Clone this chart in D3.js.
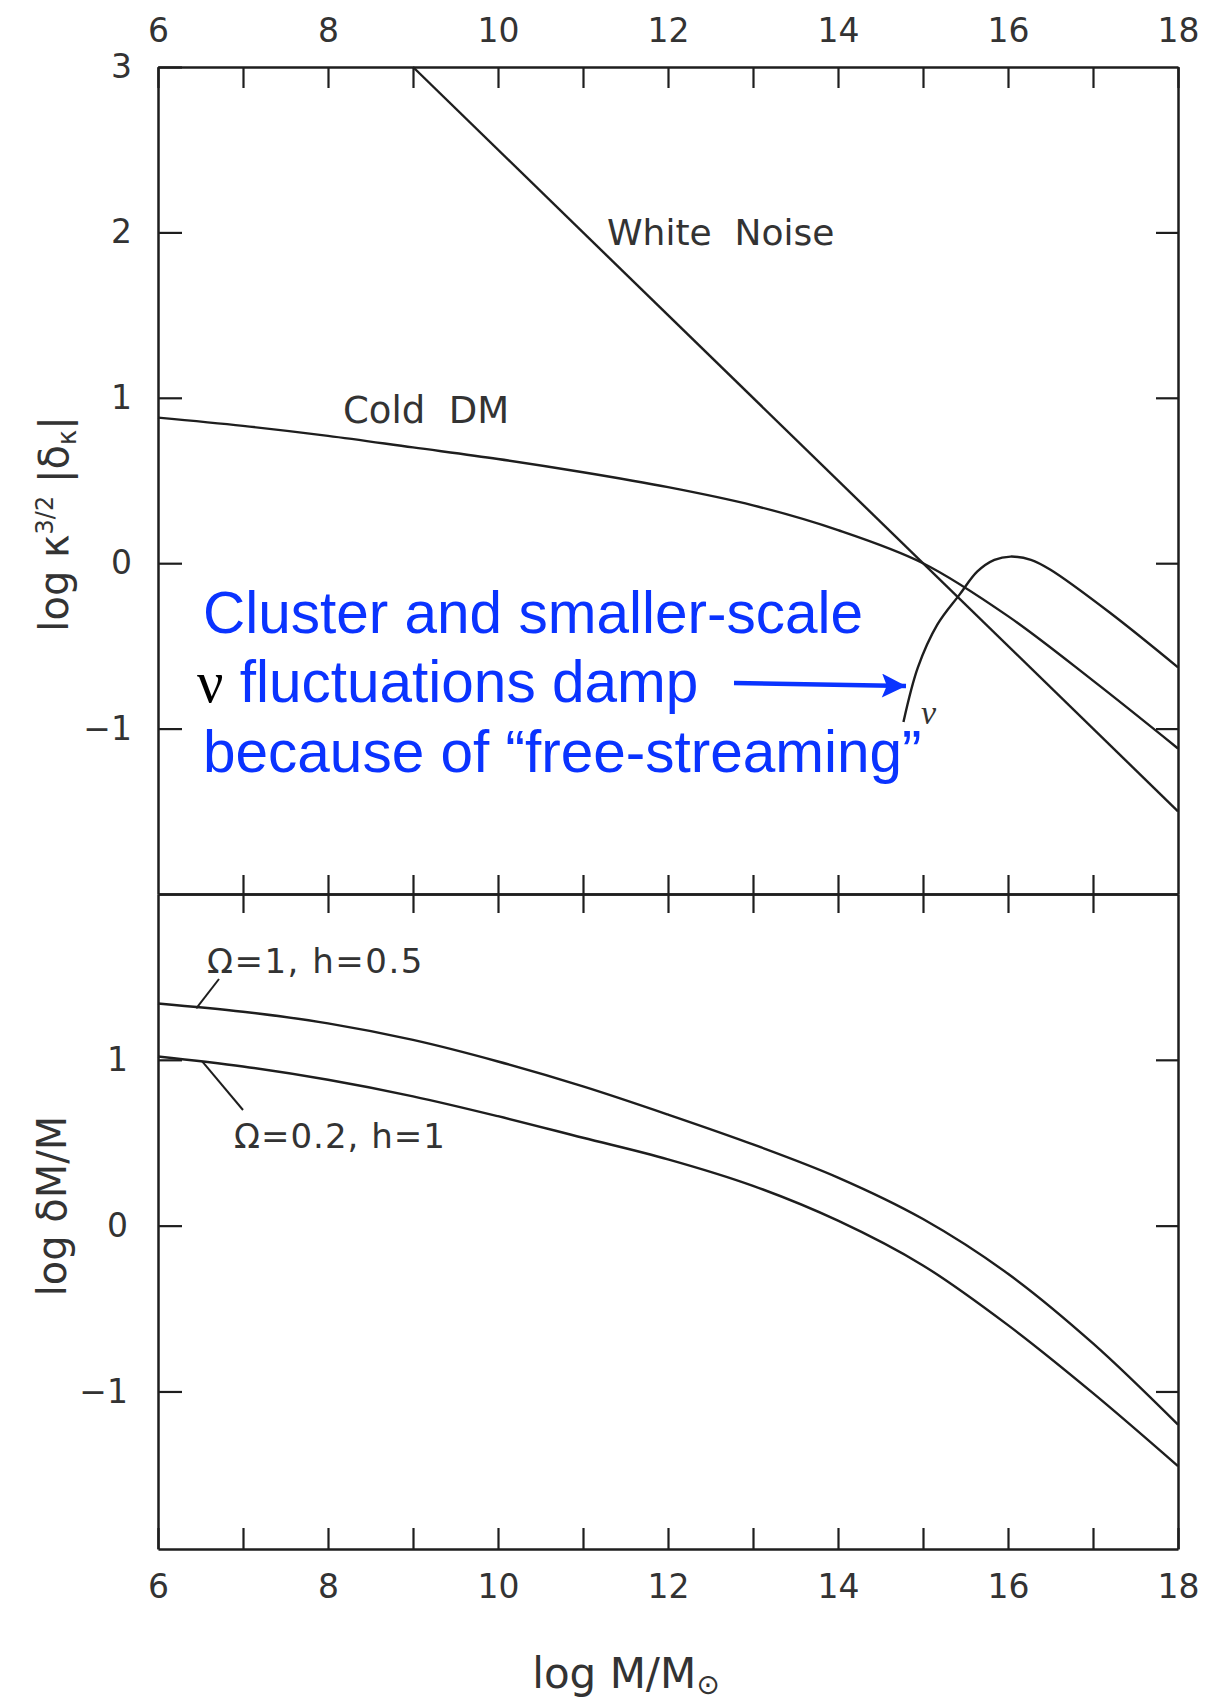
<!DOCTYPE html>
<html>
<head>
<meta charset="utf-8">
<script src="https://cdn.jsdelivr.net/npm/d3@7"></script>
<style>
  body { margin: 0; background: #fff; }
  .tick text { font-family: 'DejaVu Sans', sans-serif; fill: #333; }
</style>
</head>
<body>
<script>
// values (log M/Msun on x)
var logMass = [6, 7, 8, 9, 10, 11, 12, 13, 14, 15, 16, 17, 18];
var coldDM = [0.88, 0.83, 0.77, 0.70, 0.63, 0.55, 0.46, 0.35, 0.20, 0.0, -0.32, -0.71, -1.12];
var whiteNoiseMass = [9, 18];
var whiteNoise = [3, -1.5];
var nuMass = [14.77, 14.94, 15.17, 15.43, 15.64, 15.84, 16.03, 16.27, 16.5, 17.2, 18];
var neutrino = [-0.96, -0.63, -0.37, -0.19, -0.05, 0.02, 0.04, 0.02, -0.04, -0.30, -0.63];
var omega1h05 = [1.34, 1.29, 1.22, 1.12, 0.99, 0.84, 0.67, 0.49, 0.29, 0.04, -0.29, -0.71, -1.20];
var omega02h1 = [1.02, 0.96, 0.88, 0.78, 0.66, 0.53, 0.40, 0.24, 0.03, -0.24, -0.60, -1.01, -1.45];

var xLabels = [6, 8, 10, 12, 14, 16, 18];
var topYTicks = [-1, 0, 1, 2, 3];
var botYTicks = [-1, 0, 1];

var FONT = "'DejaVu Sans', sans-serif";
var INK = '#1e1e1e';
var BLUE = '#0a33ff';

var svg = d3.select('body').append('svg')
  .attr('width', 1230)
  .attr('height', 1701);

var x = d3.scaleLinear().domain([6, 18]).range([158, 1178]);
var yTop = d3.scaleLinear().domain([-2, 3]).range([894, 67]);
var yBot = d3.scaleLinear().domain([-1.95, 2]).range([1549, 894]);

var intFmt = d3.format('d');
function fmtX(d) { return xLabels.indexOf(d) >= 0 ? d : ''; }

// top frame: ticks inward, labels above
svg.append('g')
  .attr('transform', 'translate(0,' + yTop(3) + ')')
  .call(d3.axisTop(x).tickValues(logMass).tickFormat(fmtX)
    .tickSizeInner(-21).tickSizeOuter(0).tickPadding(25))
  .call(style, 33);

// divider between panels: ticks crossing
svg.append('g')
  .attr('transform', 'translate(0,' + yTop(-2) + ')')
  .call(d3.axisBottom(x).tickValues(logMass.slice(1, -1)).tickFormat('')
    .tickSizeInner(19).tickSizeOuter(0))
  .call(style, 33);
svg.append('g')
  .attr('transform', 'translate(0,' + yTop(-2) + ')')
  .call(d3.axisBottom(x).tickValues(logMass.slice(1, -1)).tickFormat('')
    .tickSizeInner(-19).tickSizeOuter(0))
  .call(style, 33);

// bottom frame
svg.append('g')
  .attr('transform', 'translate(0,' + yBot(-1.95) + ')')
  .call(d3.axisBottom(x).tickValues(logMass).tickFormat(fmtX)
    .tickSizeInner(-21).tickSizeOuter(0).tickPadding(26))
  .call(style, 33);

// left / right of upper panel
svg.append('g')
  .attr('transform', 'translate(' + x(6) + ',0)')
  .call(d3.axisLeft(yTop).tickValues(topYTicks).tickFormat(intFmt)
    .tickSizeInner(-24).tickSizeOuter(0).tickPadding(26))
  .call(style, 33);
svg.append('g')
  .attr('transform', 'translate(' + x(18) + ',0)')
  .call(d3.axisRight(yTop).tickValues(topYTicks.slice(0, 4)).tickFormat('')
    .tickSizeInner(-22).tickSizeOuter(0))
  .call(style, 33);

// left / right of lower panel
svg.append('g')
  .attr('transform', 'translate(' + x(6) + ',0)')
  .call(d3.axisLeft(yBot).tickValues(botYTicks).tickFormat(intFmt)
    .tickSizeInner(-24).tickSizeOuter(0).tickPadding(30))
  .call(style, 33);
svg.append('g')
  .attr('transform', 'translate(' + x(18) + ',0)')
  .call(d3.axisRight(yBot).tickValues(botYTicks).tickFormat('')
    .tickSizeInner(-22).tickSizeOuter(0))
  .call(style, 33);

function style(g, size) {
  g.select('.domain').attr('stroke', INK).attr('stroke-width', 2.5);
  g.selectAll('.tick line').attr('stroke', INK).attr('stroke-width', 2.2);
  g.selectAll('.tick text').style('font-size', size + 'px');
}

// curves
var lineTop = d3.line()
  .x(function (d) { return x(d[0]); })
  .y(function (d) { return yTop(d[1]); })
  .curve(d3.curveCatmullRom.alpha(0.5));
var lineBot = d3.line()
  .x(function (d) { return x(d[0]); })
  .y(function (d) { return yBot(d[1]); })
  .curve(d3.curveCatmullRom.alpha(0.5));

var topSeries = [
  d3.zip(logMass, coldDM),
  d3.zip(whiteNoiseMass, whiteNoise),
  d3.zip(nuMass, neutrino)
];
var botSeries = [
  d3.zip(logMass, omega1h05),
  d3.zip(logMass, omega02h1)
];

svg.selectAll('path.top').data(topSeries).enter().append('path')
  .attr('class', 'top')
  .attr('d', lineTop)
  .attr('fill', 'none')
  .attr('stroke', INK)
  .attr('stroke-width', 2.4);

svg.selectAll('path.bot').data(botSeries).enter().append('path')
  .attr('class', 'bot')
  .attr('d', lineBot)
  .attr('fill', 'none')
  .attr('stroke', INK)
  .attr('stroke-width', 2.4);

// curve labels
function label(txt, px, py, size, spacing) {
  return svg.append('text')
    .attr('x', px).attr('y', py)
    .attr('font-family', FONT)
    .attr('font-size', size)
    .attr('letter-spacing', spacing || 0)
    .attr('fill', '#333')
    .attr('xml:space', 'preserve')
    .text(txt);
}
label('White  Noise', 607, 245, 36);
label('Cold  DM', 343, 423, 37);
label('\u03A9=1, h=0.5', 207, 973, 34, 1.5);
label('\u03A9=0.2, h=1', 234, 1148, 34, 1);

// leader lines for the Omega labels
svg.append('line')
  .attr('x1', 219).attr('y1', 979)
  .attr('x2', x(6.45)).attr('y2', yBot(1.31))
  .attr('stroke', INK).attr('stroke-width', 2);
svg.append('line')
  .attr('x1', 243).attr('y1', 1110)
  .attr('x2', x(6.52)).attr('y2', yBot(0.99))
  .attr('stroke', INK).attr('stroke-width', 2);

// nu label on the curve
svg.append('text')
  .attr('x', 921).attr('y', 724)
  .attr('font-family', "'Liberation Serif', serif")
  .attr('font-style', 'italic')
  .attr('font-size', 34)
  .attr('fill', '#333')
  .text('\u03BD');

// axis titles
var t1 = svg.append('text')
  .attr('transform', 'translate(68,524) rotate(-90)')
  .attr('text-anchor', 'middle')
  .attr('font-family', FONT)
  .attr('font-size', 40)
  .attr('fill', '#333');
t1.append('tspan').text('log \u03BA');
t1.append('tspan').attr('dy', -15).attr('font-size', 24).text('3/2');
t1.append('tspan').attr('dy', 15).attr('xml:space', 'preserve').text(' |\u03B4');
t1.append('tspan').attr('dy', 8).attr('font-size', 26).text('\u03BA');
t1.append('tspan').attr('dy', -8).text('|');

svg.append('text')
  .attr('transform', 'translate(66,1206) rotate(-90)')
  .attr('text-anchor', 'middle')
  .attr('font-family', FONT)
  .attr('font-size', 40)
  .attr('fill', '#333')
  .text('log \u03B4M/M');

var t3 = svg.append('text')
  .attr('x', 626).attr('y', 1688)
  .attr('text-anchor', 'middle')
  .attr('font-family', FONT)
  .attr('font-size', 42)
  .attr('fill', '#333');
t3.append('tspan').text('log M/M');
t3.append('tspan').attr('dy', 6).attr('font-size', 28).text('\u2299');

// blue annotation
var note = svg.append('g')
  .attr('font-family', "'Liberation Sans', Arial, sans-serif")
  .attr('font-size', 58.5)
  .attr('fill', BLUE);
note.append('text').attr('x', 203).attr('y', 633).text('Cluster and smaller-scale');
var l2 = note.append('text').attr('x', 197).attr('y', 702);
l2.append('tspan')
  .attr('font-family', "'Liberation Serif', 'Times New Roman', serif")
  .attr('fill', '#000')
  .text('\u03BD');
l2.append('tspan').attr('xml:space', 'preserve').text(' fluctuations damp');
note.append('text').attr('x', 203).attr('y', 772)
  .text('because of \u201Cfree-streaming\u201D');

svg.append('defs').append('marker')
  .attr('id', 'head')
  .attr('viewBox', '0 0 10 10')
  .attr('refX', 10).attr('refY', 5)
  .attr('markerUnits', 'userSpaceOnUse')
  .attr('markerWidth', 28).attr('markerHeight', 24)
  .attr('orient', 'auto')
  .append('path')
  .attr('d', 'M0,0 L10,5 L0,10 L2,5 Z')
  .attr('fill', BLUE);

svg.append('line')
  .attr('x1', 734).attr('y1', 683)
  .attr('x2', 906).attr('y2', 686)
  .attr('stroke', BLUE)
  .attr('stroke-width', 4.5)
  .attr('marker-end', 'url(#head)');
</script>
</body>
</html>
